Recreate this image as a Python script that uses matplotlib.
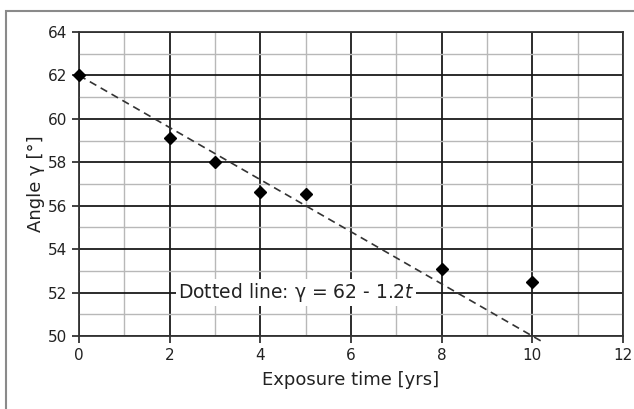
import matplotlib.pyplot as plt
import numpy as np
from matplotlib.patches import Rectangle
from matplotlib.ticker import MultipleLocator

# 数据
years = [0, 2, 3, 4, 5, 8, 10]
angle = [62.0, 59.1, 58.0, 56.65, 56.55, 53.1, 52.5]

# 拟合直线 y = 62 - 1.2 t
fit_a = 62
fit_b = -1.2
fit_t = [0, 10.2]

fig = plt.figure(figsize=(6.34, 4.09), dpi=100)
ax = fig.add_axes([0.1246, 0.1785, 0.858, 0.7433])

# 外框
fig.patches.append(Rectangle((0.0095, -0.05), 1.2, 1.024, transform=fig.transFigure,
                             fill=False, edgecolor='#8a8a8a', linewidth=1.5))

# 网格
ax.xaxis.set_major_locator(MultipleLocator(2))
ax.xaxis.set_minor_locator(MultipleLocator(1))
ax.yaxis.set_major_locator(MultipleLocator(2))
ax.yaxis.set_minor_locator(MultipleLocator(1))
ax.grid(which='minor', color='#b8b8b8', linewidth=1.0)
ax.grid(which='major', color='#1a1a1a', linewidth=1.3)
ax.set_axisbelow(True)

# 虚线
t = np.array(fit_t)
ax.plot(t, fit_a + fit_b * t, color='#333333', linestyle=(0, (4.5, 3)), linewidth=1.2,
        clip_on=False, zorder=3)

# 数据点
ax.plot(years, angle, 'D', color='black', markersize=6.5, linestyle='none',
        clip_on=False, zorder=4)

ax.text(4.79, 52, 'Dotted line: γ = 62 - 1.2$\\mathit{t}$', fontsize=13.5, ha='center',
        va='center', color='#222222', zorder=5,
        bbox=dict(facecolor='white', edgecolor='none', pad=1.5))

ax.set_xlim(0, 12)
ax.set_ylim(50, 64)
for s in ax.spines.values():
    s.set_color('#333333')
    s.set_linewidth(1.3)
ax.tick_params(which='major', direction='out', length=5, width=1.3, color='#333333',
               labelsize=11, labelcolor='#222222')
ax.tick_params(which='minor', length=0)

ax.set_xlabel('Exposure time [yrs]', fontsize=13, color='#222222', labelpad=6)
ax.set_ylabel('Angle γ [°]', fontsize=13, color='#222222', labelpad=2)

plt.savefig('out.png', dpi=100)
